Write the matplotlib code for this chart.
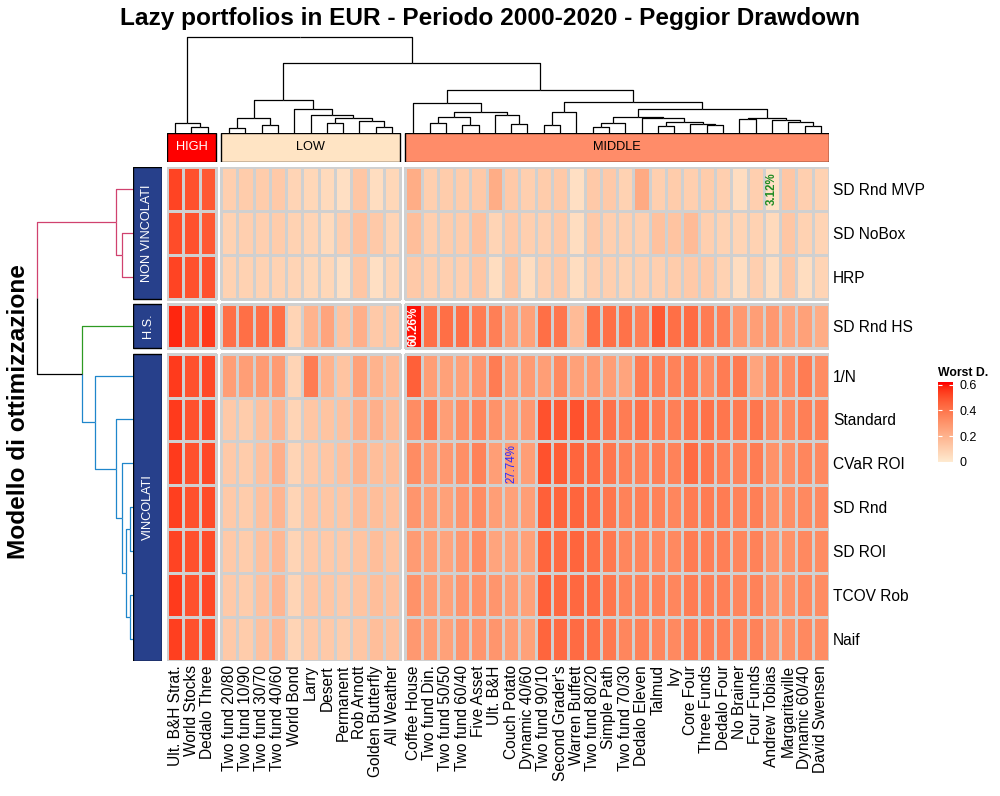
import numpy as np
import matplotlib
matplotlib.use('Agg')
import matplotlib.pyplot as plt
from matplotlib.colors import ListedColormap, Normalize
from matplotlib.patches import Rectangle

plt.rcParams['font.family'] = ['Liberation Sans', 'DejaVu Sans']

# ---- data ----

row_groups = ['NON VINCOLATI', 'H.S.', 'VINCOLATI']
rows_nv = ['SD Rnd MVP', 'SD NoBox', 'HRP']
rows_hs = ['SD Rnd HS']
rows_v = ['1/N', 'Standard', 'CVaR ROI', 'SD Rnd', 'SD ROI', 'TCOV Rob', 'Naif']

col_groups = ['HIGH', 'LOW', 'MIDDLE']
cols_high = ['Ult. B&H Strat.', 'World Stocks', 'Dedalo Three']
cols_low = ['Two fund 20/80', 'Two fund 10/90', 'Two fund 30/70', 'Two fund 40/60',
            'World Bond', 'Larry', 'Desert', 'Permanent', 'Rob Arnott',
            'Golden Butterfly', 'All Weather']
cols_middle = ['Coffee House', 'Two fund Din.', 'Two fund 50/50', 'Two fund 60/40',
               'Five Asset', 'Ult. B&H', 'Couch Potato', 'Dynamic 40/60',
               'Two fund 90/10', "Second Grader's", 'Warren Buffett', 'Two fund 80/20',
               'Simple Path', 'Two fund 70/30', 'Dedalo Eleven', 'Talmud', 'Ivy',
               'Core Four', 'Three Funds', 'Dedalo Four', 'No Brainer', 'Four Funds',
               'Andrew Tobias', 'Margaritaville', 'Dynamic 60/40', 'David Swensen']

# worst drawdown, one row per model (same order as rows_nv + rows_hs + rows_v)
dd_high = [
    [0.53, 0.50, 0.48],
    [0.51, 0.50, 0.48],
    [0.53, 0.50, 0.50],
    [0.58, 0.50, 0.55],
    [0.55, 0.50, 0.52],
    [0.55, 0.50, 0.52],
    [0.55, 0.50, 0.52],
    [0.54, 0.50, 0.51],
    [0.53, 0.50, 0.51],
    [0.55, 0.50, 0.52],
    [0.54, 0.50, 0.51],
]
dd_low = [
    [0.10, 0.11, 0.11, 0.12, 0.08, 0.07, 0.06, 0.04, 0.13, 0.05, 0.07],
    [0.09, 0.10, 0.10, 0.11, 0.09, 0.08, 0.06, 0.10, 0.15, 0.12, 0.08],
    [0.09, 0.09, 0.09, 0.09, 0.08, 0.07, 0.07, 0.04, 0.13, 0.04, 0.08],
    [0.42, 0.42, 0.42, 0.42, 0.08, 0.20, 0.25, 0.14, 0.21, 0.12, 0.12],
    [0.27, 0.27, 0.28, 0.28, 0.08, 0.38, 0.20, 0.14, 0.26, 0.20, 0.17],
    [0.12, 0.11, 0.15, 0.19, 0.08, 0.13, 0.14, 0.15, 0.21, 0.21, 0.17],
    [0.12, 0.11, 0.15, 0.21, 0.08, 0.12, 0.13, 0.15, 0.20, 0.16, 0.16],
    [0.12, 0.11, 0.15, 0.19, 0.08, 0.13, 0.13, 0.13, 0.17, 0.16, 0.15],
    [0.12, 0.11, 0.15, 0.18, 0.08, 0.12, 0.12, 0.12, 0.14, 0.16, 0.14],
    [0.12, 0.11, 0.15, 0.19, 0.08, 0.13, 0.13, 0.12, 0.14, 0.16, 0.15],
    [0.12, 0.11, 0.15, 0.18, 0.08, 0.12, 0.12, 0.11, 0.13, 0.16, 0.15],
]
dd_middle = [
    [0.22, 0.10, 0.11, 0.11, 0.12, 0.22, 0.12, 0.10, 0.11, 0.12, 0.04, 0.12, 0.12,
     0.09, 0.23, 0.10, 0.11, 0.10, 0.11, 0.10, 0.05, 0.10, 0.0312, 0.13, 0.10, 0.09],
    [0.16, 0.10, 0.11, 0.11, 0.15, 0.08, 0.12, 0.10, 0.10, 0.12, 0.05, 0.12, 0.10,
     0.10, 0.10, 0.15, 0.14, 0.17, 0.10, 0.09, 0.08, 0.09, 0.06, 0.13, 0.09, 0.08],
    [0.12, 0.10, 0.10, 0.10, 0.13, 0.05, 0.14, 0.05, 0.10, 0.12, 0.05, 0.10, 0.10,
     0.09, 0.10, 0.10, 0.11, 0.12, 0.12, 0.09, 0.05, 0.10, 0.05, 0.13, 0.05, 0.08],
    [0.6026, 0.42, 0.42, 0.42, 0.38, 0.37, 0.26, 0.26, 0.42, 0.40, 0.17, 0.42, 0.42,
     0.41, 0.37, 0.48, 0.42, 0.43, 0.38, 0.37, 0.29, 0.27, 0.29, 0.25, 0.26, 0.22],
    [0.46, 0.27, 0.26, 0.26, 0.30, 0.38, 0.27, 0.28, 0.27, 0.34, 0.26, 0.28, 0.27,
     0.25, 0.38, 0.37, 0.36, 0.39, 0.33, 0.38, 0.39, 0.25, 0.33, 0.33, 0.38, 0.33],
    [0.33, 0.38, 0.27, 0.32, 0.35, 0.31, 0.27, 0.29, 0.50, 0.48, 0.50, 0.45, 0.41,
     0.38, 0.41, 0.38, 0.37, 0.41, 0.41, 0.40, 0.39, 0.40, 0.34, 0.34, 0.37, 0.36],
    [0.33, 0.28, 0.29, 0.32, 0.36, 0.27, 0.2774, 0.27, 0.50, 0.47, 0.45, 0.43, 0.40,
     0.37, 0.36, 0.37, 0.36, 0.43, 0.40, 0.37, 0.36, 0.38, 0.31, 0.32, 0.35, 0.34],
    [0.30, 0.27, 0.26, 0.30, 0.33, 0.27, 0.26, 0.27, 0.46, 0.45, 0.45, 0.43, 0.40,
     0.36, 0.37, 0.36, 0.35, 0.38, 0.38, 0.38, 0.36, 0.37, 0.31, 0.32, 0.34, 0.34],
    [0.28, 0.26, 0.25, 0.29, 0.33, 0.25, 0.25, 0.26, 0.45, 0.43, 0.45, 0.42, 0.39,
     0.35, 0.35, 0.34, 0.34, 0.38, 0.37, 0.37, 0.35, 0.36, 0.30, 0.31, 0.34, 0.33],
    [0.31, 0.27, 0.26, 0.30, 0.31, 0.30, 0.27, 0.26, 0.46, 0.44, 0.44, 0.43, 0.40,
     0.36, 0.36, 0.36, 0.35, 0.38, 0.37, 0.37, 0.35, 0.36, 0.30, 0.31, 0.34, 0.33],
    [0.29, 0.27, 0.26, 0.30, 0.30, 0.30, 0.27, 0.26, 0.45, 0.43, 0.43, 0.42, 0.39,
     0.35, 0.36, 0.35, 0.34, 0.38, 0.37, 0.37, 0.35, 0.36, 0.30, 0.31, 0.34, 0.33],
]

# cells that carry a percentage label: (row, column, text colour, weight)
labelled = [('SD Rnd HS', 'Coffee House', 'white', 'bold'),
            ('SD Rnd MVP', 'Andrew Tobias', '#1E8B22', 'bold'),
            ('CVaR ROI', 'Couch Potato', '#2B2BFF', 'normal')]

# column clustering (leaf, leaf, height)
col_tree = (('Ult. B&H Strat.', ('World Stocks', 'Dedalo Three', 0.059), 0.104),
            (((('Two fund 20/80', 'Two fund 10/90', 0.049),
               ('Two fund 30/70', 'Two fund 40/60', 0.083), 0.156),
              ('World Bond', ('Larry', (('Desert', 'Permanent', 0.10),
                                        ('Rob Arnott', ('Golden Butterfly', 'All Weather', 0.0625), 0.128),
                                        0.153), 0.1875), 0.247), 0.344),
             (('Coffee House',
               ((('Two fund Din.', 'Two fund 50/50', 0.10), ('Two fund 60/40', 'Five Asset', 0.083), 0.167),
                ('Ult. B&H', ('Couch Potato', 'Dynamic 40/60', 0.094), 0.1875), 0.219), 0.3125),
              ((('Two fund 90/10', "Second Grader's", 0.083), 'Warren Buffett', 0.219),
               (((('Two fund 80/20', 'Simple Path', 0.059), 'Two fund 70/30', 0.104),
                 ('Dedalo Eleven', (('Talmud', 'Ivy', 0.069),
                                    ('Core Four', ('Three Funds', 'Dedalo Four', 0.08), 0.09), 0.115), 0.156),
                 0.167),
                (('No Brainer', 'Four Funds', 0.146),
                 ('Andrew Tobias', ('Margaritaville', ('Dynamic 60/40', 'David Swensen', 0.069), 0.115), 0.135),
                 0.153), 0.25), 0.326), 0.448), 0.729), 1.0)

# row clustering
row_tree = (('SD Rnd MVP', ('SD NoBox', 'HRP', 0.111), 0.18),
            ('SD Rnd HS',
             ('1/N', ('Standard', ('CVaR ROI', (('SD Rnd', 'SD ROI', 0.028),
                                               ('TCOV Rob', 'Naif', 0.035), 0.069), 0.111), 0.18), 0.392),
             0.531), 1.0)

group_fill = {'HIGH': '#FF0000', 'LOW': '#FFE4C4', 'MIDDLE': '#FF8C69'}
group_text = {'HIGH': 'white', 'LOW': 'black', 'MIDDLE': 'black'}
branch_colour = {'NON VINCOLATI': '#D0426F', 'H.S.': '#2E9A22', 'VINCOLATI': '#1F86CB'}


# ---- colour ramp (LAB interpolation like colorRamp2) ----

M = np.array([[0.4124, 0.3576, 0.1805], [0.2126, 0.7152, 0.0722], [0.0193, 0.1192, 0.9505]])
WHITE = np.array([0.95047, 1.0, 1.08883])


def to_lab(hexcol):
    c = np.array([int(hexcol[i:i + 2], 16) / 255 for i in (1, 3, 5)])
    c = np.where(c > 0.04045, ((c + 0.055) / 1.055) ** 2.4, c / 12.92)
    xyz = M @ c / WHITE
    f = np.where(xyz > 0.008856, np.cbrt(xyz), 7.787 * xyz + 16 / 116)
    return np.array([116 * f[1] - 16, 500 * (f[0] - f[1]), 200 * (f[1] - f[2])])


def from_lab(lab):
    fy = (lab[0] + 16) / 116
    f = np.array([fy + lab[1] / 500, fy, fy - lab[2] / 200])
    xyz = np.where(f ** 3 > 0.008856, f ** 3, (f - 16 / 116) / 7.787) * WHITE
    c = np.clip(np.linalg.inv(M) @ xyz, 0, 1)
    c = np.where(c > 0.0031308, 1.055 * c ** (1 / 2.4) - 0.055, 12.92 * c)
    return np.clip(c, 0, 1)


lo, hi = to_lab('#FFEAD0'), to_lab('#FF0000')
cmap = ListedColormap([from_lab(lo + t * (hi - lo)) for t in np.linspace(0, 1, 256)])
norm = Normalize(0, 0.61)

# ---- layout (pixels of a 1000x796 figure) ----

W, H = 1000, 796
fig = plt.figure(figsize=(W / 100, H / 100), dpi=100)


def box(x0, y0, x1, y1):
    return [x0 / W, 1 - y1 / H, (x1 - x0) / W, (y1 - y0) / H]


col_slices = [cols_high, cols_low, cols_middle]
row_slices = [rows_nv, rows_hs, rows_v]
values = np.hstack([np.array(dd_high), np.array(dd_low), np.array(dd_middle)])
col_names = cols_high + cols_low + cols_middle
row_names = rows_nv + rows_hs + rows_v
cgap, rgap = 0.307, 0.125

# slice edges in data units
col_start, x = [], 0.0
for s in col_slices:
    col_start.append(x)
    x += len(s) + cgap
row_start, y = [], 0.0
for s in row_slices:
    row_start.append(y)
    y += len(s) + rgap
col_pos = {}
for s, x0 in zip(col_slices, col_start):
    for j, n in enumerate(s):
        col_pos[n] = x0 + j + 0.5
row_pos = {}
for s, y0 in zip(row_slices, row_start):
    for i, n in enumerate(s):
        row_pos[n] = y0 + i + 0.5

ax = fig.add_axes(box(167, 167, 829, 661))
ci = 0
for cs, x0 in zip(col_slices, col_start):
    ri = 0
    for rs, y0 in zip(row_slices, row_start):
        sub = values[ri:ri + len(rs), ci:ci + len(cs)]
        ax.pcolormesh(x0 + np.arange(len(cs) + 1), y0 + np.arange(len(rs) + 1), sub,
                      cmap=cmap, norm=norm, edgecolors='#D0D0D0', linewidth=0.9)
        ri += len(rs)
    ci += len(cs)
ax.set_xlim(0, col_start[-1] + len(cols_middle))
ax.set_ylim(row_start[-1] + len(rows_v), 0)
for sp in ax.spines.values():
    sp.set_visible(False)
ax.set_xticks([col_pos[n] for n in col_names])
ax.set_xticklabels(col_names, rotation=90, fontsize=11.2)
ax.set_yticks([row_pos[n] for n in row_names])
ax.set_yticklabels(row_names, fontsize=11.2)
ax.yaxis.tick_right()
ax.tick_params(length=0, pad=3)

for r, c, colour, weight in labelled:
    v = values[row_names.index(r), col_names.index(c)]
    ax.text(col_pos[c], row_pos[r], f'{v * 100:.2f}%', rotation=90, ha='center', va='center',
            color=colour, fontweight=weight, fontsize=8.3)


# ---- dendrograms ----

def leaves(node):
    if isinstance(node, str):
        return [node]
    return leaves(node[0]) + leaves(node[1])


def draw_tree(a, node, pos, vertical, colour_of):
    if isinstance(node, str):
        return pos[node], 0.0
    left, right, h = node
    p1, h1 = draw_tree(a, left, pos, vertical, colour_of)
    p2, h2 = draw_tree(a, right, pos, vertical, colour_of)
    pm = (p1 + p2) / 2
    for p, hc, child in [(p1, h1, left), (p2, h2, right)]:
        xs, ys = [p, p, pm], [hc, h, h]
        if not vertical:
            xs, ys = ys, xs
        a.plot(xs, ys, color=colour_of(child), lw=0.9, solid_capstyle='butt', clip_on=False)
    return pm, h


dax = fig.add_axes(box(167, 37, 829, 133), sharex=ax)
draw_tree(dax, col_tree, col_pos, True, lambda n: 'black')
dax.set_ylim(0, 1.0)
dax.axis('off')

row_group_of = {}
for g, s in zip(row_groups, row_slices):
    for n in s:
        row_group_of[n] = g


def row_colour(node):
    gs = {row_group_of[n] for n in leaves(node)}
    return branch_colour[gs.pop()] if len(gs) == 1 else 'black'


rdax = fig.add_axes(box(37, 167, 133, 661), sharey=ax)
draw_tree(rdax, row_tree, row_pos, False, row_colour)
rdax.set_xlim(1.0, 0)
rdax.axis('off')

# ---- block annotations ----

cax_top = fig.add_axes(box(167, 133, 829, 162), sharex=ax)
for g, s, x0 in zip(col_groups, col_slices, col_start):
    cax_top.add_patch(Rectangle((x0, 0), len(s), 1, facecolor=group_fill[g],
                                edgecolor='black', lw=1.0))
    cax_top.text(x0 + len(s) / 2, 0.5, g, ha='center', va='center', fontsize=9.2,
                 color=group_text[g])
cax_top.set_ylim(0, 1)
cax_top.axis('off')

rax = fig.add_axes(box(133, 167, 162, 661), sharey=ax)
for g, s, y0 in zip(row_groups, row_slices, row_start):
    rax.add_patch(Rectangle((0, y0), 1, len(s), facecolor='#27408B', edgecolor='black', lw=1.0))
    rax.text(0.5, y0 + len(s) / 2, g, ha='center', va='center', rotation=90,
             fontsize=9.2, color='white')
rax.set_xlim(0, 1)
rax.axis('off')

# ---- titles ----

fig.text(0.49, 1 - 18 / H, 'Lazy portfolios in EUR - Periodo 2000-2020 - Peggior Drawdown',
         ha='center', va='center', fontsize=17.6, fontweight='bold')
fig.text(19 / W, 1 - 412 / H, 'Modello di ottimizzazione', rotation=90,
         ha='center', va='center', fontsize=17.6, fontweight='bold')

# ---- legend ----

lax = fig.add_axes(box(938, 382, 953, 462))
grad = np.linspace(0, 0.62, 200)[:, None]
lax.imshow(grad, aspect='auto', cmap=cmap, norm=norm, origin='lower', extent=[0, 1, 0, 0.62])
lax.set_xticks([])
lax.set_yticks([0, 0.2, 0.4, 0.6])
lax.set_yticklabels(['0', '0.2', '0.4', '0.6'], fontsize=9)
lax.yaxis.set_ticks_position('both')
lax.tick_params(axis='y', direction='in', length=3, color='white', labelleft=False,
                labelright=True, pad=5)
for sp in lax.spines.values():
    sp.set_visible(False)
fig.text(938 / W, 1 - 373 / H, 'Worst D.', fontsize=8.8, fontweight='bold', va='center')

fig.savefig('out.png', dpi=100)
